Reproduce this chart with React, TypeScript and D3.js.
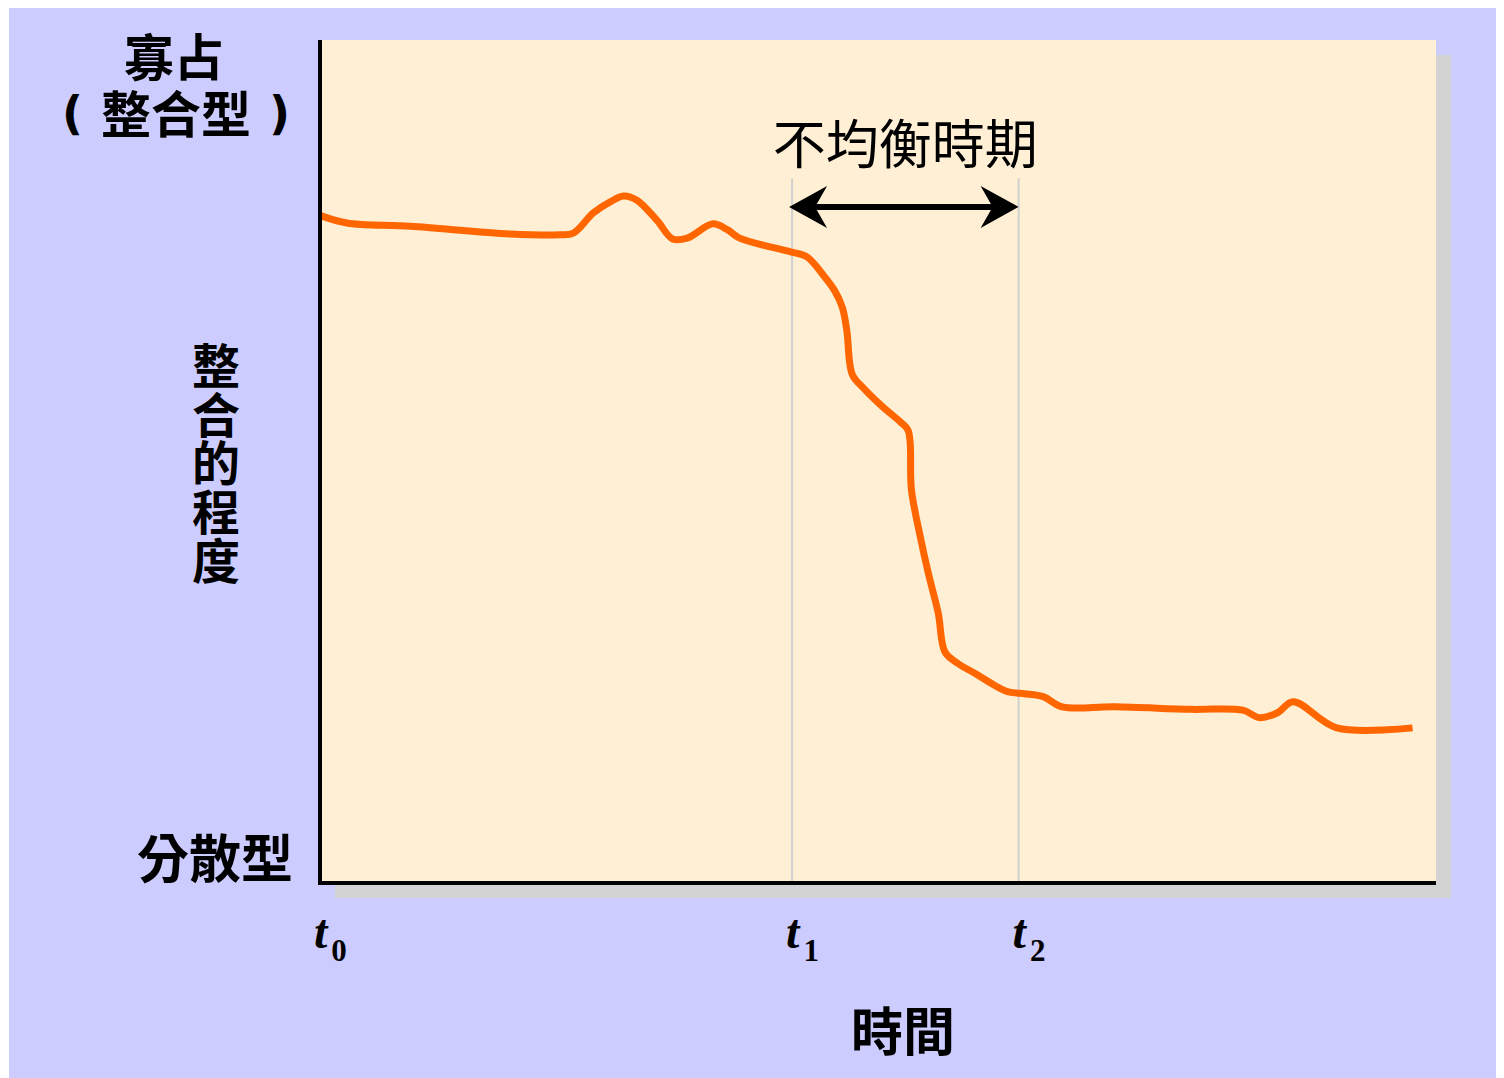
import React from "react";
import * as d3 from "d3";

// Time on a 0–100 scale from t0 to the end of the axis; integration degree 0 (分散型) – 100 (寡占)
const timeSteps = [
  0, 2.4, 8.1, 17.0, 21.5, 22.7, 24.5, 26.0, 27.2, 28.4, 30.2, 31.6, 32.9, 35.2, 36.5, 37.6,
  42.1, 43.6, 45.1, 46.1, 46.8, 47.2, 47.7, 48.7, 50.4, 52.0, 52.7, 53.0, 53.8, 54.5, 55.4,
  56.0, 57.1, 58.9, 60.0, 61.6, 62.7, 64.8, 66.5, 71.2, 78.0, 82.7, 84.2, 85.8, 87.2, 91.1, 97.9,
];
const integration = [
  79.2, 78.3, 77.9, 77.0, 76.9, 77.1, 79.5, 80.8, 81.5, 81.0, 78.6, 76.4, 76.5, 78.2, 77.5, 76.5,
  74.9, 74.3, 72.1, 70.3, 68.3, 65.6, 60.3, 58.7, 56.5, 54.7, 53.7, 46.6, 41.0, 36.8, 32.0,
  27.4, 26.1, 24.7, 23.8, 22.7, 22.5, 22.1, 20.9, 20.9, 20.6, 20.5, 19.6, 20.2, 21.5, 18.4, 18.4,
];

const tickTimes = [0, 42.3, 62.6];
const tickSubscripts = ["0", "1", "2"];

const periodStart = 42.3;
const periodEnd = 62.6;
const periodLabel = "不均衡時期";

const yTopLabel = "寡占";
const yTopSubLabel = "整合型";
const yTitle = "整合的程度";
const yBottomLabel = "分散型";
const xTitle = "時間";

const CJK = "'Noto Sans CJK TC', 'Noto Sans CJK SC', sans-serif";
const SERIF = "'Liberation Serif', 'DejaVu Serif', serif";
const PAREN = "'DejaVu Sans', sans-serif";

export default function App() {
  const plot = { left: 320, right: 1436, top: 40, bottom: 883 };
  const x = d3.scaleLinear().domain([0, 100]).range([plot.left, plot.right]);
  const y = d3.scaleLinear().domain([0, 100]).range([plot.bottom, plot.top]);

  const pts: [number, number][] = timeSteps.map((t, i) => [t, integration[i]]);
  const linePath = d3
    .line<[number, number]>()
    .x((d) => x(d[0]))
    .y((d) => y(d[1]))
    .curve(d3.curveCatmullRom.alpha(0.5))(pts) as string;

  const arrowY = y(80.2);
  const guideTop = y(83.6);
  const x1 = x(periodStart);
  const x2 = x(periodEnd);
  const headLen = 38;
  const headHalf = 21;
  const notch = 26;
  const leftHead = `M${x1 - 3},${arrowY} L${x1 - 3 + headLen},${arrowY - headHalf} L${x1 - 3 + notch},${arrowY} L${x1 - 3 + headLen},${arrowY + headHalf} Z`;
  const rightHead = `M${x2},${arrowY} L${x2 - headLen},${arrowY - headHalf} L${x2 - notch},${arrowY} L${x2 - headLen},${arrowY + headHalf} Z`;

  return (
    <svg width={1496} height={1070} style={{ display: "block" }}>
      <g transform="translate(-8,-8)">
        <rect x={9} y={8} width={1495} height={1070} fill="#ccccff" />
        {/* drop shadow of the plotting panel */}
        <rect x={plot.left + 15} y={plot.top + 15} width={plot.right - plot.left} height={plot.bottom - plot.top} fill="#d3d3d3" />
        <rect x={plot.left} y={plot.top} width={plot.right - plot.left} height={plot.bottom - plot.top} fill="#ffefd5" />

        {/* t1 / t2 guide lines */}
        {[periodStart, periodEnd].map((t, i) => (
          <line key={i} x1={x(t)} x2={x(t)} y1={guideTop} y2={plot.bottom} stroke="#d0d0d0" strokeWidth={2} />
        ))}

        {/* imbalance period arrow */}
        <line x1={x1 + 10} x2={x2 - 10} y1={arrowY} y2={arrowY} stroke="#000" strokeWidth={6} />
        <path d={leftHead} fill="#000" />
        <path d={rightHead} fill="#000" />
        <text x={(x1 + x2) / 2} y={164} textAnchor="middle" fontFamily={CJK} fontSize={53} fill="#000">
          {periodLabel}
        </text>

        {/* series */}
        <path d={linePath} fill="none" stroke="#ff6600" strokeWidth={7} strokeLinejoin="round" strokeLinecap="butt" />

        {/* axes */}
        <line x1={plot.left} x2={plot.left} y1={plot.top} y2={plot.bottom + 2} stroke="#000" strokeWidth={4} />
        <line x1={plot.left - 2} x2={plot.right} y1={plot.bottom} y2={plot.bottom} stroke="#000" strokeWidth={4} />

        {/* x tick labels */}
        {tickTimes.map((t, i) => (
          <text key={i} x={x(t) - 6} y={948} fontFamily={SERIF} fontWeight="bold" fill="#000">
            <tspan fontStyle="italic" fontSize={48}>t</tspan>
            <tspan fontSize={31} dx={4} dy={13}>{tickSubscripts[i]}</tspan>
          </text>
        ))}

        {/* y labels */}
        <g fontFamily={CJK} fontWeight={700} fill="#000">
          <text fontSize={50}>
            <tspan x={174} y={76} textAnchor="middle">{yTopLabel}</tspan>
            <tspan x={176} y={133} textAnchor="middle">{yTopSubLabel}</tspan>
            <tspan x={62} y={129} fontFamily={PAREN} fontSize={46}>(</tspan>
            <tspan x={290} y={129} fontFamily={PAREN} fontSize={46} textAnchor="end">)</tspan>
          </text>
          <text x={216} y={342} fontSize={48} letterSpacing={0.6} style={{ writingMode: "vertical-rl" }}>
            {yTitle}
          </text>
          <text x={215} y={878} fontSize={52} textAnchor="middle">{yBottomLabel}</text>
          <text x={903} y={1051} fontSize={52} textAnchor="middle">{xTitle}</text>
        </g>
      </g>
    </svg>
  );
}
